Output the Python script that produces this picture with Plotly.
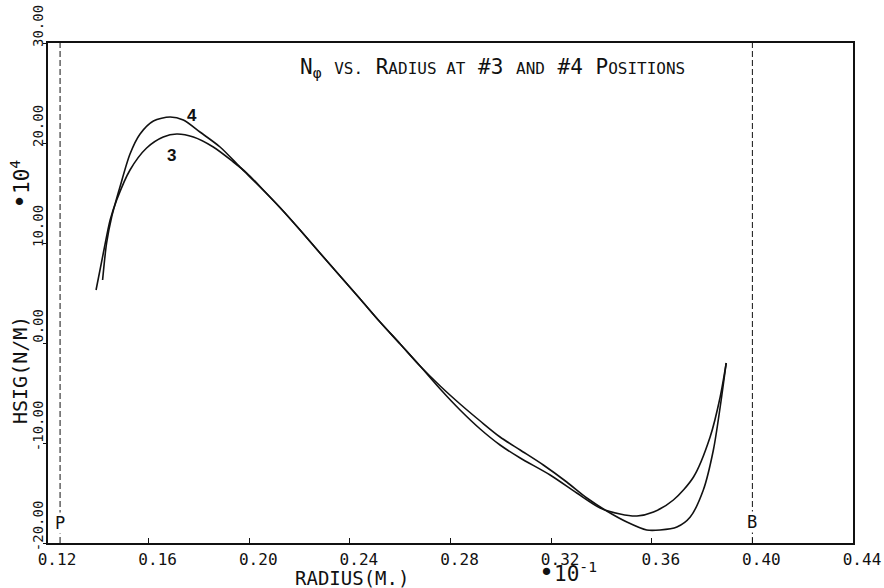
import plotly.graph_objects as go

# Hoop stress resultant N_phi (x 10^4 N/m) against radius (x 10^-1 m)
radius_3 = [0.1391, 0.1420, 0.1447, 0.1473, 0.1526, 0.1592, 0.1658, 0.1712, 0.1778,
            0.1857, 0.1937, 0.1990, 0.2056, 0.2122, 0.2202, 0.2281, 0.2361, 0.2441,
            0.2520, 0.2600, 0.2679, 0.2759, 0.2838, 0.2918, 0.2997, 0.3077, 0.3196,
            0.3302, 0.3395, 0.3474, 0.3541, 0.3607, 0.3686, 0.3766, 0.3832, 0.3872,
            0.3896]
hsig_3 = [5.3, 9.0, 12.3, 14.3, 17.3, 19.5, 20.6, 20.9, 20.6,
          19.6, 18.1, 17.0, 15.3, 13.55, 11.3, 9.0, 6.7, 4.4,
          2.1, -0.1, -2.3, -4.6, -6.7, -8.6, -10.2, -11.5, -13.2,
          -15.0, -16.5, -17.1, -17.3, -16.9, -15.7, -13.4, -9.4, -5.4,
          -2.0]

radius_4 = [0.1417, 0.1433, 0.1453, 0.1486, 0.1526, 0.1566, 0.1619, 0.1685, 0.1738,
            0.1804, 0.1884, 0.1963, 0.2043, 0.2122, 0.2202, 0.2281, 0.2361, 0.2441,
            0.2520, 0.2600, 0.2679, 0.2759, 0.2838, 0.2918, 0.2997, 0.3077, 0.3169,
            0.3262, 0.3342, 0.3421, 0.3501, 0.3580, 0.3633, 0.3700, 0.3753, 0.3805,
            0.3845, 0.3872, 0.3896]
hsig_4 = [6.3, 10.0, 12.6, 15.6, 18.9, 20.9, 22.2, 22.6, 22.3,
          21.1, 19.6, 17.6, 15.6, 13.55, 11.3, 9.0, 6.7, 4.4,
          2.1, -0.1, -2.3, -4.3, -6.1, -7.8, -9.4, -10.7, -12.2,
          -13.9, -15.5, -16.8, -17.9, -18.7, -18.7, -18.4, -17.4, -14.7,
          -10.7, -6.4, -2.0]

x_ticks = [0.12, 0.16, 0.20, 0.24, 0.28, 0.32, 0.36, 0.40, 0.44]
x_tick_labels = ["0.12", "0.16", "0.20", "0.24", "0.28", "0.32", "0.36", "0.40", "0.44"]
y_ticks = [-20, -10, 0, 10, 20, 30]
y_tick_labels = ["-20.00", "-10.00", "0.00", "10.00", "20.00", "30.00"]

# Inner (P) and outer (B) boundary radii
p_radius = 0.1248
b_radius = 0.40
y_span = [-20, 30]

MONO = "DejaVu Sans Mono"
BLACK = "#111111"

fig = go.Figure()

for r in (p_radius, b_radius):
    fig.add_trace(go.Scatter(
        x=[r, r], y=y_span, mode="lines",
        line=dict(color=BLACK, width=1, dash="6px,3px"),
        hoverinfo="skip", showlegend=False,
    ))

fig.add_trace(go.Scatter(
    x=radius_3, y=hsig_3, mode="lines", name="3",
    line=dict(color=BLACK, width=1.6, shape="spline", smoothing=0.8),
    showlegend=False,
))
fig.add_trace(go.Scatter(
    x=radius_4, y=hsig_4, mode="lines", name="4",
    line=dict(color=BLACK, width=1.6, shape="spline", smoothing=0.8),
    showlegend=False,
))

small = "<span style='font-size:16px'>{}</span>"
title_html = ("N<sub>\u03c6</sub> " + small.format("VS.") + " R" + small.format("ADIUS AT")
              + " #3 " + small.format("AND") + " #4 P" + small.format("OSITIONS"))
dot = "<span style='font-size:25px'>\u2022</span>"


def outer_label(px, py, text, size, angle=0):
    """Text placed by figure pixel position, expressed relative to the plot area."""
    return dict(x=(px - 48) / 805, y=(543 - py) / 500, xref="paper", yref="paper",
                xanchor="center", yanchor="middle", text=text, textangle=angle,
                showarrow=False, font=dict(family=MONO, size=size, color=BLACK))


annotations = [
    dict(x=0.2965, y=27.5, xref="x", yref="y", text=title_html, showarrow=False,
         font=dict(family=MONO, size=21, color=BLACK)),
    dict(x=0.1773, y=22.8, xref="x", yref="y", text="<b>4</b>", showarrow=False,
         font=dict(family="Liberation Sans", size=17, color=BLACK)),
    dict(x=0.1689, y=18.8, xref="x", yref="y", text="<b>3</b>", showarrow=False,
         font=dict(family="Liberation Sans", size=17, color=BLACK)),
    dict(x=p_radius, y=-18.0, xref="x", yref="y", text="P", showarrow=False,
         bgcolor="white", borderpad=0,
         font=dict(family=MONO, size=17, color=BLACK)),
    dict(x=b_radius, y=-17.9, xref="x", yref="y", text="B", showarrow=False,
         bgcolor="white", borderpad=0,
         font=dict(family=MONO, size=17, color=BLACK)),
    outer_label(352, 578, "RADIUS(M.)", 19),
    outer_label(568, 572, dot + "10<sup>-1</sup>", 21),
    outer_label(20, 370, "HSIG(N/M)", 20, -90),
    outer_label(20, 185, dot + "10<sup>4</sup>", 21, -90),
]

fig.update_layout(
    width=884, height=588,
    margin=dict(l=48, r=31, t=43, b=45),
    paper_bgcolor="white", plot_bgcolor="white",
    annotations=annotations,
    xaxis=dict(
        range=[0.12, 0.44], tickvals=x_ticks, ticktext=x_tick_labels,
        automargin=False, ticklabeloverflow="allow",
        showgrid=False, zeroline=False, showline=True, mirror=True,
        linecolor=BLACK, linewidth=1.5, ticks="inside", ticklen=5,
        tickcolor=BLACK, tickwidth=1.2, ticklabelshift=9, ticklabelstandoff=1,
        tickfont=dict(family=MONO, size=16, color=BLACK),
    ),
    yaxis=dict(
        range=[-20, 30], tickvals=y_ticks, ticktext=y_tick_labels,
        automargin=False, ticklabeloverflow="allow",
        showgrid=False, zeroline=False, showline=True, mirror=True,
        linecolor=BLACK, linewidth=1.5, ticks="outside", ticklen=3,
        tickcolor=BLACK, tickwidth=1.2, tickangle=-90, ticklabelshift=-15,
        ticklabelstandoff=-5,
        tickfont=dict(family=MONO, size=14, color=BLACK),
    ),
)

fig.write_html("out.html")
